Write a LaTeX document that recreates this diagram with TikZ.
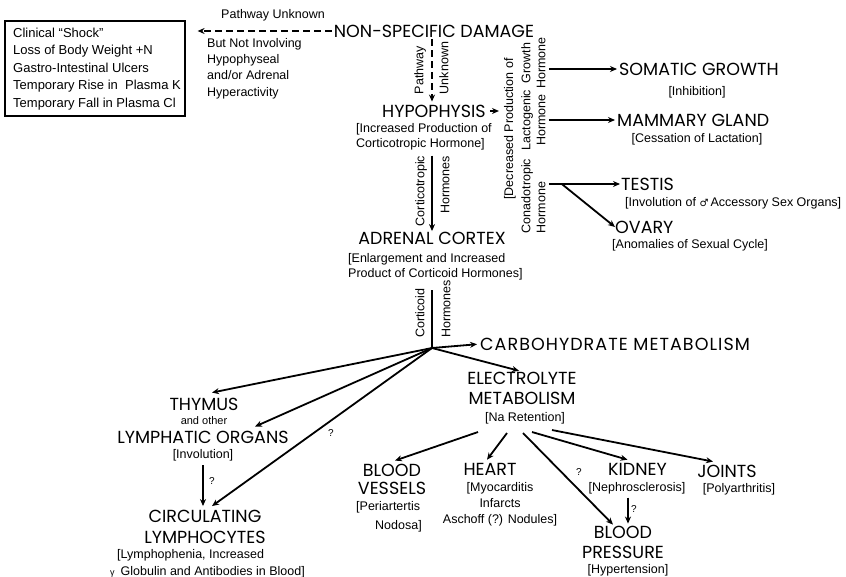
\documentclass[tikz,border=0pt]{standalone}
\usepackage{fontspec}
\setmainfont{Liberation Sans}
\newfontfamily\ttl{Poppins}
\newfontfamily\djv{DejaVu Sans}
\usetikzlibrary{arrows.meta,calc}
\begin{document}
\begin{tikzpicture}[x=1pt,y=-1pt,
 ttl/.style={font=\ttl\fontsize{17.5}{20}\selectfont, inner sep=0pt},
 sm/.style={font=\fontsize{12.5}{15}\selectfont, inner sep=0pt},
 arr/.style={line width=1.8pt, -{Stealth[length=7pt,width=6pt]}},
 ln/.style={line width=1.8pt},
 dsh/.style={line width=1.8pt, dash pattern=on 7pt off 4pt, -{Stealth[length=7pt,width=6pt]}},
 rot/.style={sm, rotate=90},
 qm/.style={inner sep=0pt, font=\fontsize{10}{12}\selectfont}]
\useasboundingbox (0,0) rectangle (846,577);
\coordinate (ax) at (432,0);
\coordinate (j) at (432,348);

% top left
\node[draw, line width=1.2pt, minimum width=180pt, minimum height=95pt] (box) at (95,68.5) {};
\node[sm, font=\fontsize{13}{17.5}\selectfont, align=left, anchor=west] (boxt) at (13,69) {Clinical ``Shock''\\Loss of Body Weight +N\\Gastro-Intestinal Ulcers\\Temporary Rise in\ \ Plasma K\\Temporary Fall in Plasma Cl};
\node[sm] (pu) at (273,15) {Pathway Unknown};
\node[sm, font=\fontsize{12.5}{16.3}\selectfont, align=left, anchor=west] (bni) at (207,68.5) {But Not Involving\\Hypophyseal\\and/or Adrenal\\Hyperactivity};

% central column
\node[ttl] (nsd) at (434,31) {NON-SPECIFIC DAMAGE};
\draw[dsh, shorten <=2pt, shorten >=12pt] (nsd.west) -- (nsd.west -| box.east);
\node[rot, align=left, font=\fontsize{12.5}{25}\selectfont] (pwu) at (431.5,68) {Pathway\\Unknown};
\node[ttl] (hyp) at (434,111) {HYPOPHYSIS};
\draw[dsh, shorten <=2pt, shorten >=3pt] (nsd.south -| ax) -- (hyp.north -| ax);
\node[sm, align=left, anchor=west] (hyps) at (356,137) {[Increased Production of\\Corticotropic Hormone]};
\node[rot, align=right, font=\fontsize{12.5}{25}\selectfont] (cth) at (432.5,191) {Corticotropic\\Hormones};
\node[ttl] (adr) at (432,238.5) {ADRENAL CORTEX};
\draw[arr, shorten <=5pt, shorten >=1pt] (hyps.south -| ax) -- (adr.north -| ax);
\node[sm, align=left, anchor=west] (adrs) at (348,266.5) {[Enlargement and Increased\\Product of Corticoid Hormones]};
\node[rot, align=left, font=\fontsize{12.5}{26}\selectfont] (coh) at (433,309) {Corticoid\\Hormones};
\draw[ln, shorten <=10pt] (adrs.south -| ax) -- (j);

% hormone column
\node[rot] (dec) at (510,129) {[Decreased Production of};
\draw[arr, shorten <=4pt, shorten >=5pt] (hyp.east) -- (hyp.east -| dec.north);
\node[rot, align=center] (gh) at (533.5,63) {Growth\\Hormone};
\node[rot, align=center] (lh) at (533.5,120) {Lactogenic\\Hormone};
\node[rot, align=left] (cgh) at (533.5,196) {Conadotropic\\Hormone};

% right side
\node[ttl, anchor=west] (som) at (619,69) {SOMATIC GROWTH};
\node[sm] (soms) at (697,92) {[Inhibition]};
\node[ttl, anchor=west] (mam) at (617,120) {MAMMARY GLAND};
\node[sm] (mams) at (697,139) {[Cessation of Lactation]};
\node[ttl, anchor=west] (tes) at (621,184) {TESTIS};
\node[sm, anchor=west] (tess) at (625,203.5) {[Involution of {\djv\fontsize{10}{12}\selectfont ♂}\,Accessory Sex Organs]};
\node[ttl, anchor=west] (ova) at (615,227) {OVARY};
\node[sm, anchor=west] (ovas) at (612,245) {[Anomalies of Sexual Cycle]};
\draw[arr, shorten <=3pt, shorten >=2pt] (gh.south |- som.west) -- (som.west);
\draw[arr, shorten <=3pt, shorten >=2pt] (lh.south |- mam.west) -- (mam.west);
\draw[arr, shorten <=3pt, shorten >=1pt] (cgh.south |- tes.west) -- (tes.west);
\draw[arr] ($(cgh.south |- tes.west)+(16,0)$) -- (ova.west);

% carbohydrate / electrolyte
\node[ttl, anchor=west, font=\ttl\fontsize{17.5}{20}\selectfont\addfontfeature{LetterSpace=6}] (carb) at (480,344) {CARBOHYDRATE METABOLISM};
\draw[arr, shorten >=3pt] (j) -- (carb.west);
\node[ttl, align=center] (ele) at (522,388) {ELECTROLYTE\\METABOLISM};
\node[sm] (nas) at (525,418) {[Na Retention]};
\draw[arr, shorten >=3pt] (j) -- (ele.north);

% lymphatic branch
\node[ttl] (thy) at (204,404) {THYMUS};
\node[sm, font=\fontsize{11}{13}\selectfont] (ao) at (204,421) {and other};
\node[ttl] (lym) at (203,437) {LYMPHATIC ORGANS};
\node[sm] (inv) at (203,455) {[Involution]};
\node[ttl, align=center, font=\ttl\fontsize{17.5}{21}\selectfont] (circ) at (205,527) {CIRCULATING\\LYMPHOCYTES};
\node[sm, align=left, anchor=west, font=\fontsize{12.5}{17}\selectfont] (cirs) at (110,564) {\hspace{7pt}[Lymphophenia, Increased\\{\fontsize{9}{9}\selectfont γ}\hspace{6pt}Globulin and Antibodies in Blood]};
\draw[arr] (j) -- ([shift={(8,-5)}]thy.north);
\draw[arr] (j) -- ([shift={(52,-4)}]lym.north);
\draw[arr] (j) -- ([shift={(7,-4)}]circ.north);
\draw[arr, shorten <=4pt] (inv.south) -- ([shift={(-2,-4)}]circ.north);
\node[qm] (q1) at (212,481) {?};
\node[qm] (q2) at (331,433) {?};

% electrolyte targets
\node[ttl, align=center, font=\ttl\fontsize{17.5}{18}\selectfont] (bv) at (392,479) {BLOOD\\VESSELS};
\node[sm, align=left, anchor=west, font=\fontsize{12.5}{19}\selectfont] (bvs) at (356,517) {[Periartertis\\\hspace{19pt}Nodosa]};
\node[ttl] (hea) at (490,469) {HEART};
\node[sm, align=center, font=\fontsize{12.5}{16}\selectfont] (heas) at (500,504) {[Myocarditis\\Infarcts\\Aschoff (?) Nodules]};
\node[ttl] (kid) at (637.5,469) {KIDNEY};
\node[sm] (kids) at (637,488.5) {[Nephrosclerosis]};
\node[ttl] (joi) at (727,471) {JOINTS};
\node[sm] (jois) at (739,489) {[Polyarthritis]};
\node[ttl, align=center] (bp) at (623,542) {BLOOD\\PRESSURE};
\node[sm] (bps) at (628,570) {[Hypertension]};
\draw[arr] ([shift={(-47,8)}]nas.south) -- ([shift={(3,-3)}]bv.north);
\draw[arr] ([shift={(-18,9)}]nas.south) -- ([shift={(-3,-3)}]hea.north);
\draw[arr] ([shift={(-2,9)}]nas.south) -- ([shift={(-10,-1)}]bp.north);
\draw[arr] ([shift={(7,8)}]nas.south) -- ([shift={(-10,-3)}]kid.north);
\draw[arr] ([shift={(27,6)}]nas.south) -- ([shift={(-14,-3)}]joi.north);
\draw[arr] ([shift={(-9,3)}]kids.south) -- ([shift={(5,-2)}]bp.north);
\node[qm] (q3) at (579,472) {?};
\node[qm] (q4) at (634,509) {?};
\end{tikzpicture}
\end{document}
